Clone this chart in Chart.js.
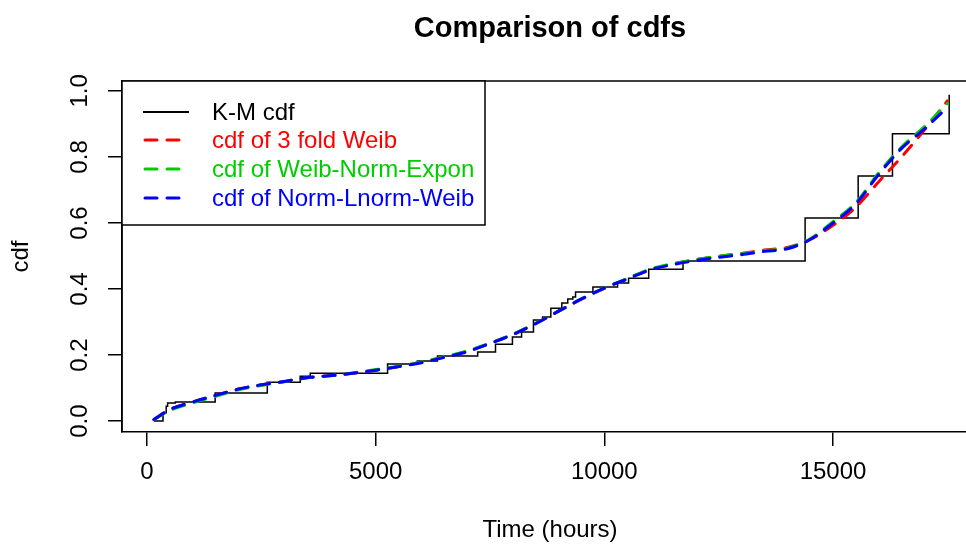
<!DOCTYPE html>
<html>
<head>
<meta charset="utf-8">
<script src="https://cdn.jsdelivr.net/npm/chart.js@4.4.1/dist/chart.umd.min.js"></script>
<style>
  html, body { margin: 0; padding: 0; background: #fff; overflow: hidden; }
  #wrap { width: 966px; height: 544px; }
</style>
</head>
<body>
<div id="wrap"><canvas id="chart" width="966" height="544"></canvas></div>
<script>
// Kaplan-Meier estimate (step function)
const kmTime = [150, 350, 420, 450, 620, 1490, 2630, 3350, 3570, 5260, 5910, 6350, 7230, 7620, 7990, 8190, 8450, 8650, 8830, 9070, 9200, 9310, 9370, 9750, 10290, 10530, 10970, 11720, 14390, 15550, 16300, 17540];
const kmCdf = [0, 0.025, 0.045, 0.055, 0.058, 0.085, 0.118, 0.136, 0.145, 0.173, 0.182, 0.197, 0.209, 0.233, 0.255, 0.270, 0.306, 0.315, 0.342, 0.358, 0.370, 0.376, 0.391, 0.406, 0.418, 0.433, 0.460, 0.485, 0.615, 0.742, 0.870, 0.988];

// fitted cdfs
const fitTime = [150, 500, 1000, 1500, 2000, 2500, 3000, 3500, 4000, 4500, 5000, 5500, 6000, 6500, 7000, 7500, 8000, 8500, 9000, 9500, 10000, 10500, 11000, 11500, 12000, 12500, 13000, 13500, 14000, 14500, 15000, 15500, 16000, 16500, 17000, 17500];
const weib3Cdf = [0.005, 0.035, 0.058, 0.078, 0.097, 0.110, 0.120, 0.131, 0.138, 0.145, 0.154, 0.165, 0.178, 0.194, 0.212, 0.236, 0.263, 0.296, 0.333, 0.369, 0.402, 0.431, 0.458, 0.476, 0.489, 0.499, 0.508, 0.518, 0.526, 0.550, 0.593, 0.648, 0.725, 0.800, 0.882, 0.970];
const weibNormExpCdf = [0.004, 0.032, 0.055, 0.075, 0.095, 0.108, 0.119, 0.131, 0.137, 0.146, 0.156, 0.166, 0.179, 0.195, 0.212, 0.236, 0.263, 0.296, 0.333, 0.370, 0.403, 0.432, 0.460, 0.477, 0.489, 0.499, 0.507, 0.516, 0.524, 0.552, 0.604, 0.662, 0.752, 0.830, 0.892, 0.962];
const normLnormWeibCdf = [0.005, 0.035, 0.058, 0.078, 0.097, 0.110, 0.120, 0.132, 0.137, 0.145, 0.154, 0.165, 0.177, 0.193, 0.210, 0.235, 0.262, 0.295, 0.333, 0.370, 0.403, 0.430, 0.458, 0.474, 0.486, 0.496, 0.504, 0.514, 0.522, 0.550, 0.600, 0.658, 0.747, 0.826, 0.885, 0.950];

const xTicks = [0, 5000, 10000, 15000];
const yTicks = [0, 0.2, 0.4, 0.6, 0.8, 1.0];
const yTickLabels = ['0.0', '0.2', '0.4', '0.6', '0.8', '1.0'];
const legendLabels = ['K-M cdf', 'cdf of 3 fold Weib', 'cdf of Weib-Norm-Expon', 'cdf of Norm-Lnorm-Weib'];
const seriesColors = ['#000000', '#ff0000', '#00cd00', '#0000ff'];

const FONT = '"Liberation Sans", Arial, Helvetica, sans-serif';

function pts(xs, ys) {
    return xs.map((x, i) => ({ x: x, y: ys[i] }));
}

function dashed(label, data, color, order) {
    return {
        label: label,
        data: data,
        borderColor: color,
        borderWidth: 3,
        borderDash: [12, 10],
        borderCapStyle: 'round',
        cubicInterpolationMode: 'monotone',
        pointRadius: 0,
        fill: false,
        order: order
    };
}

// R-like frame, rotated y labels, titles and legend
const rStyle = {
    id: 'rStyle',
    afterDraw(chart) {
        const ctx = chart.ctx;
        const area = chart.chartArea;
        const ys = chart.scales.y;
        ctx.save();
        ctx.strokeStyle = '#000';
        ctx.lineWidth = 1.5;
        ctx.beginPath();
        ctx.moveTo(area.left, area.bottom);
        ctx.lineTo(area.left, area.top);
        ctx.lineTo(area.right, area.top);
        ctx.stroke();

        ctx.fillStyle = '#000';
        ctx.font = '24px ' + FONT;
        ctx.textAlign = 'center';
        ctx.textBaseline = 'middle';
        yTicks.forEach((v, i) => {
            ctx.save();
            ctx.translate(80, ys.getPixelForValue(v));
            ctx.rotate(-Math.PI / 2);
            ctx.fillText(yTickLabels[i], 0, 0);
            ctx.restore();
        });

        // axis titles
        ctx.save();
        ctx.translate(21, (area.top + area.bottom) / 2);
        ctx.rotate(-Math.PI / 2);
        ctx.fillText('cdf', 0, 0);
        ctx.restore();
        ctx.fillText('Time (hours)', 550, 530);

        ctx.font = 'bold 29px ' + FONT;
        ctx.fillText('Comparison of cdfs', 550, 29);

        // legend
        ctx.fillStyle = '#fff';
        ctx.fillRect(area.left, area.top, 363, 144);
        ctx.strokeRect(area.left, area.top, 363, 144);
        const rowY = [113, 141, 170, 199];
        ctx.font = '24px ' + FONT;
        ctx.textAlign = 'left';
        legendLabels.forEach((lab, i) => {
            ctx.strokeStyle = seriesColors[i];
            ctx.lineWidth = i === 0 ? 2 : 3;
            ctx.setLineDash(i === 0 ? [] : [12, 10]);
            ctx.lineCap = i === 0 ? 'butt' : 'round';
            ctx.beginPath();
            ctx.moveTo(i === 0 ? 143 : 145, rowY[i] - 1);
            ctx.lineTo(i === 0 ? 189 : 187, rowY[i] - 1);
            ctx.stroke();
            ctx.fillStyle = seriesColors[i];
            ctx.fillText(lab, 212, rowY[i]);
        });
        ctx.restore();
    }
};

const ctx = document.getElementById('chart').getContext('2d');
const chart = new Chart(ctx, {
    type: 'line',
    data: {
        datasets: [
            {
                label: legendLabels[0],
                data: pts(kmTime, kmCdf),
                borderColor: '#000',
                borderWidth: 1.5,
                stepped: true,
                pointRadius: 0,
                fill: false,
                order: 3
            },
            dashed(legendLabels[1], pts(fitTime, weib3Cdf), seriesColors[1], 2),
            dashed(legendLabels[2], pts(fitTime, weibNormExpCdf), seriesColors[2], 1),
            dashed(legendLabels[3], pts(fitTime, normLnormWeibCdf), seriesColors[3], 0)
        ]
    },
    options: {
        responsive: false,
        animation: false,
        layout: { padding: { top: 81, right: 0, left: 0, bottom: 0 } },
        plugins: {
            legend: { display: false },
            tooltip: { enabled: false },
            title: { display: false }
        },
        scales: {
            x: {
                type: 'linear',
                min: -547,
                max: 17908,
                afterBuildTicks: s => { s.ticks = xTicks.map(v => ({ value: v })); },
                afterFit: s => { s.height = 112; },
                grid: { drawOnChartArea: false, drawTicks: true, tickLength: 14, color: '#000', lineWidth: 1.5 },
                border: { display: true, color: '#000', width: 1.5 },
                ticks: {
                    color: '#000',
                    font: { family: FONT, size: 24 },
                    padding: 12,
                    maxRotation: 0,
                    callback: v => String(v)
                }
            },
            y: {
                type: 'linear',
                min: -0.033,
                max: 1.03,
                afterBuildTicks: s => { s.ticks = yTicks.map(v => ({ value: v })); },
                afterFit: s => { s.width = 122; },
                grid: { drawOnChartArea: false, drawTicks: true, tickLength: 14, color: '#000', lineWidth: 1.5 },
                border: { display: true, color: '#000', width: 1.5 },
                ticks: { display: false }
            }
        }
    },
    plugins: [rStyle]
});
</script>
</body>
</html>
